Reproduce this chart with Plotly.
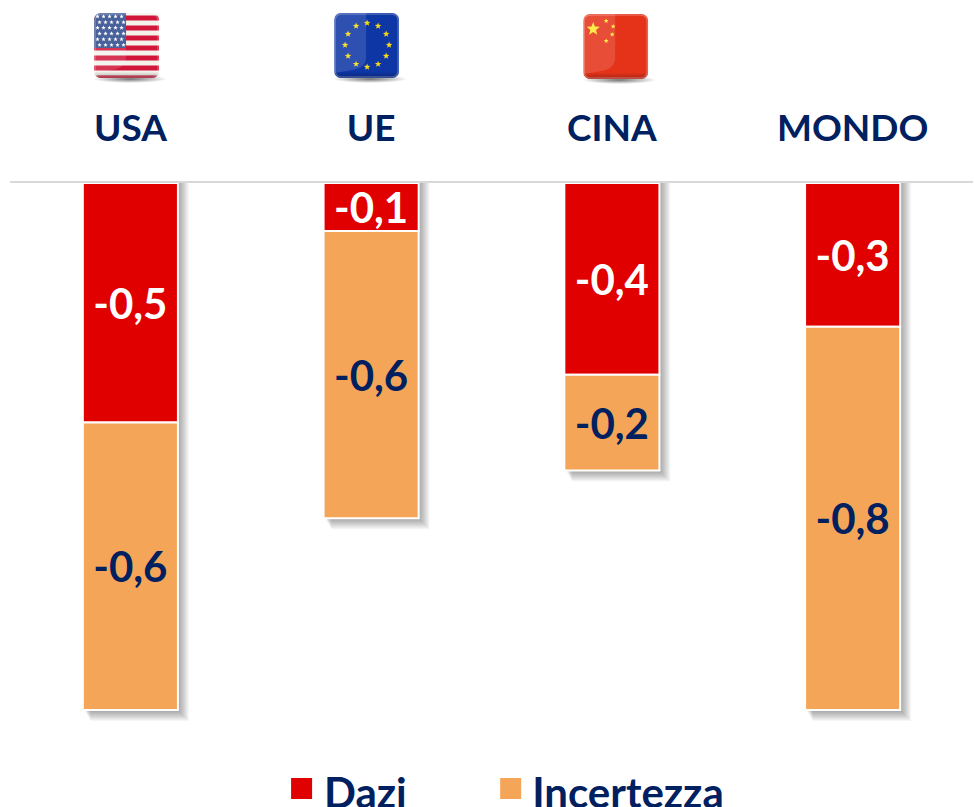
import base64, math
import plotly.graph_objects as go

categories = ["USA", "UE", "CINA", "MONDO"]
dazi = [-0.5, -0.1, -0.4, -0.3]
incertezza = [-0.6, -0.6, -0.2, -0.8]

NAVY = "#00205F"
RED = "#E00000"
ORANGE = "#F5A557"
FONT = "Lato"
W, H = 974, 807
L, R, T, B = 10, 1.3, 183, 80
PW, PH = W - L - R, H - T - B
UNITS_PER_PX = 1.1 / 527


def fmt(v):
    return f"{v:.1f}".replace(".", ",")


def px_x(px):
    return (px - L) / PW


def px_y(py):
    return (H - B - py) / PH


def star(cx, cy, r, fill):
    pts = []
    for k in range(10):
        rad = r if k % 2 == 0 else r * 0.42
        a = -math.pi / 2 + k * math.pi / 5
        pts.append(f"{cx + rad * math.cos(a):.2f},{cy + rad * math.sin(a):.2f}")
    return f'<polygon points="{" ".join(pts)}" fill="{fill}"/>'


def flag_svg(body):
    s = f'''<svg xmlns="http://www.w3.org/2000/svg" width="80" height="84" viewBox="0 0 80 84">
<defs>
<clipPath id="c"><rect x="0" y="0" width="65" height="65" rx="7"/></clipPath>
<radialGradient id="s" cx="50%" cy="50%" r="50%"><stop offset="0" stop-color="#000" stop-opacity=".55"/><stop offset="1" stop-color="#000" stop-opacity="0"/></radialGradient>
<linearGradient id="e" x1="0" y1="0" x2="0" y2="1"><stop offset=".9" stop-color="#000" stop-opacity="0"/><stop offset="1" stop-color="#000" stop-opacity=".28"/></linearGradient>
</defs>
<ellipse cx="36" cy="66" rx="37" ry="4" fill="url(#s)"/>
<g clip-path="url(#c)">{body}
<path d="M0 0H32V45Q31 55 18 57Q8 59 0 60Z" fill="#fff" opacity=".13"/>
<rect x="0" y="0" width="65" height="65" fill="url(#e)"/>
<rect x="1" y="1" width="63" height="63" rx="6" fill="none" stroke="#fff" stroke-opacity=".25" stroke-width="1.5"/>
</g></svg>'''
    return "data:image/svg+xml;base64," + base64.b64encode(s.encode()).decode()


us = '<rect width="65" height="65" fill="#F3F3EC"/>'
for k in range(0, 13, 2):
    us += f'<rect y="{k * 5.0 + 2.5:.1f}" width="65" height="5" fill="#D2163A"/>'
us += '<rect width="32" height="35" fill="#2F4A8C"/>'
for row in range(6):
    for col in range(5):
        us += star(3.5 + col * 6 + (row % 2) * 2, 3.5 + row * 5.7, 2.3, "#fff")

eu = '<rect width="65" height="65" fill="#0F36A5"/>'
for k in range(12):
    a = k * math.pi / 6
    eu += star(33 + 22 * math.sin(a), 32 - 22 * math.cos(a), 3.4, "#F7D917")

cn = '<rect width="65" height="65" fill="#E5331A"/>' + star(10, 15, 7, "#FFE830")
for cx, cy in [(23, 7), (30, 12.5), (29, 20.5), (23, 27)]:
    cn += star(cx, cy, 2.6, "#FFE830")

flags = [(flag_svg(us), 94, 13), (flag_svg(eu), 334, 13), (flag_svg(cn), 583, 14)]

fig = go.Figure()
for name, vals, col, tcol in [("Dazi", dazi, RED, "white"), ("Incertezza", incertezza, ORANGE, NAVY)]:
    fig.add_bar(
        x=categories, y=vals, name=name, text=[fmt(v) for v in vals], showlegend=False,
        textposition="inside", insidetextanchor="middle", textangle=0, constraintext="none",
        insidetextfont=dict(family=FONT, size=42, color=tcol, weight=700),
        marker=dict(color=col, line=dict(color="white", width=2)),
        hoverinfo="skip",
    )
for name, col, lg in [("Dazi", RED, "legend"), ("Incertezza", ORANGE, "legend2")]:
    fig.add_bar(x=[None], y=[None], name=name, legend=lg, marker=dict(color=col, line=dict(color=col, width=0)),
                hoverinfo="skip", showlegend=True)

shapes = []
HW = 47.5
for c, a, b in zip(categories, dazi, incertezza):
    total = a + b
    for i in range(1, 12):
        style = dict(type="rect", layer="below", line_width=0, fillcolor="rgba(0,0,0,0.037)",
                     xref="x", xsizemode="pixel", xanchor=c)
        shapes.append(dict(style, yref="y", x0=HW, x1=HW + i, y0=total, y1=0))
        shapes.append(dict(style, yref="y", ysizemode="pixel", yanchor=total,
                           x0=-HW + 1 + i * 0.6, x1=HW + i, y0=-i, y1=0))

for col, x0 in [(RED, 291), (ORANGE, 500)]:
    shapes.append(dict(type="rect", xref="paper", yref="paper", line_width=0, fillcolor=col,
                       x0=px_x(x0), x1=px_x(x0 + 21), y0=px_y(799), y1=px_y(778)))

images = [
    dict(source=src, xref="paper", yref="paper", x=px_x(px), y=px_y(py),
         sizex=80 / PW, sizey=84 / PH, xanchor="left", yanchor="top", sizing="stretch", layer="above")
    for src, px, py in flags
]

legend_font = dict(family=FONT, size=42, color=NAVY, weight=700)
fig.update_layout(
    width=W, height=H, barmode="relative", bargap=0.605,
    margin=dict(l=L, r=R, t=T, b=B, autoexpand=False),
    plot_bgcolor="white", paper_bgcolor="white",
    shapes=shapes, images=images, showlegend=True,
    legend=dict(x=px_x(284), xanchor="left", y=px_y(758), yanchor="top", font=legend_font, bgcolor="rgba(0,0,0,0)"),
    legend2=dict(x=px_x(492), xanchor="left", y=px_y(758), yanchor="top", font=legend_font, bgcolor="rgba(0,0,0,0)"),
    xaxis=dict(side="top", type="category", categoryorder="array", categoryarray=categories,
               showgrid=False, zeroline=False, showline=True, linecolor="#D9D9D9", linewidth=2,
               ticks="", ticklabelstandoff=25,
               tickfont=dict(family=FONT, size=37, color=NAVY, weight=700)),
    yaxis=dict(range=[-PH * UNITS_PER_PX, 0], visible=False, showgrid=False, zeroline=False),
)
fig.write_html("out.html", config=dict(displayModeBar=False),
               default_width=f"{W}px", default_height=f"{H}px",
               post_script="document.body.style.margin='0';")
